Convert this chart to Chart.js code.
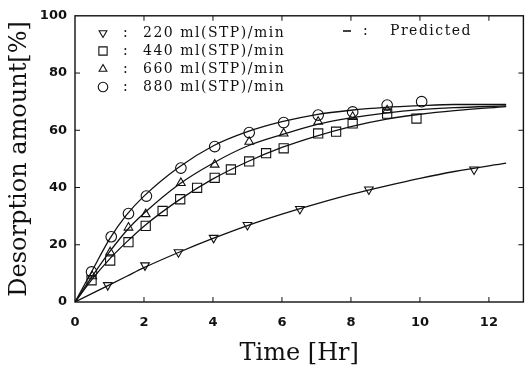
<!DOCTYPE html>
<html>
<head>
<meta charset="utf-8">
<script src="https://cdn.jsdelivr.net/npm/chart.js@4/dist/chart.umd.min.js"></script>
<style>
  html, body { margin: 0; padding: 0; background: #fff; }
  #wrap { width: 531px; height: 371px; position: relative; }
</style>
</head>
<body>
<div id="wrap"><canvas id="desorption"></canvas></div>
<script>
const flowLabels = ['220 ml(STP)/min', '440 ml(STP)/min', '660 ml(STP)/min', '880 ml(STP)/min'];

const t220 = [0.95, 2.03, 3.0, 4.02, 5.0, 6.52, 8.52, 11.57];
const y220 = [5.9, 12.8, 17.4, 22.4, 26.9, 32.5, 39.3, 46.3];

const t440 = [0.48, 1.02, 1.55, 2.05, 2.54, 3.05, 3.54, 4.05, 4.52, 5.05, 5.54, 6.05, 7.05, 7.57, 8.05, 9.05, 9.9];
const y440 = [7.6, 14.5, 20.9, 26.6, 31.8, 35.9, 39.9, 43.4, 46.3, 49.1, 52.0, 53.7, 58.9, 59.5, 62.4, 65.8, 64.1];

const t660 = [0.5, 1.02, 1.55, 2.05, 3.07, 4.05, 5.05, 6.05, 7.05, 8.05, 9.05];
const y660 = [9.0, 17.4, 26.0, 30.7, 41.6, 48.0, 56.0, 58.9, 63.0, 64.7, 67.0];

const t880 = [0.48, 1.05, 1.55, 2.07, 3.07, 4.05, 5.05, 6.05, 7.05, 8.05, 9.05, 10.05];
const y880 = [10.5, 22.8, 30.9, 37.0, 46.8, 54.3, 59.2, 62.7, 65.3, 66.4, 68.8, 70.0];

// predicted curves (solid lines)
const tPred = [0, 0.5, 1, 1.5, 2, 3, 4, 5, 6, 7, 8, 9, 10, 11, 12.5];
const pred220 = [0, 3, 6, 9, 12, 17.3, 22.2, 26.7, 30.7, 34.3, 37.6, 40.5, 43.2, 45.6, 48.5];
const pred440 = [0, 8, 15, 21, 26.5, 35.5, 43, 49, 54, 58, 61.3, 63.8, 65.6, 66.9, 68.3];
const pred660 = [0, 9, 17.5, 25, 31, 41, 48.5, 54.5, 58.5, 62, 64.3, 66, 67.2, 67.9, 68.5];
const pred880 = [0, 11, 22, 30.5, 37, 47, 54.5, 59.5, 63, 65.5, 67, 68, 68.6, 69, 69];

const xTicks = [0, 2, 4, 6, 8, 10, 12];
const yTicks = [0, 20, 40, 60, 80, 100];

const ink = '#111';

const markers = [
  { style: 'triangle', rot: 180, r: 5 },
  { style: 'rect', rot: 0, r: 6.5 },
  { style: 'triangle', rot: 0, r: 5 },
  { style: 'circle', rot: 0, r: 5.3 }
];

function pts(xs, ys) {
  return xs.map((x, i) => ({ x: x, y: ys[i] }));
}

function markerSet(i, xs, ys) {
  const m = markers[i];
  return {
    label: flowLabels[i],
    data: pts(xs, ys),
    showLine: false,
    pointStyle: m.style,
    rotation: m.rot,
    pointRadius: m.r,
    pointBorderColor: ink,
    pointBackgroundColor: 'rgba(0,0,0,0)',
    pointBorderWidth: 1.1
  };
}

function curveSet(ys) {
  return {
    label: 'Predicted',
    data: pts(tPred, ys),
    showLine: true,
    borderColor: ink,
    borderWidth: 1.3,
    pointRadius: 0,
    cubicInterpolationMode: 'monotone'
  };
}

// box, inward ticks and the in-plot legend
const frame = {
  id: 'frame',
  afterDraw(chart) {
    const ctx = chart.ctx;
    const a = chart.chartArea;
    const xs = chart.scales.x, ys = chart.scales.y;
    ctx.save();
    ctx.strokeStyle = ink;
    ctx.lineWidth = 1.4;
    ctx.strokeRect(a.left, a.top, a.right - a.left, a.bottom - a.top);
    ctx.lineWidth = 1;
    ctx.beginPath();
    xTicks.slice(1).forEach(v => {
      const px = xs.getPixelForValue(v);
      ctx.moveTo(px, a.bottom); ctx.lineTo(px, a.bottom - 5);
      ctx.moveTo(px, a.top); ctx.lineTo(px, a.top + 5);
    });
    yTicks.slice(1, -1).forEach(v => {
      const py = ys.getPixelForValue(v);
      ctx.moveTo(a.left, py); ctx.lineTo(a.left + 5, py);
      ctx.moveTo(a.right, py); ctx.lineTo(a.right - 5, py);
    });
    ctx.stroke();

    // legend
    ctx.font = '14px "DejaVu Serif"';
    ctx.letterSpacing = '1.5px';
    ctx.textBaseline = 'middle';
    const rowY = [33, 51, 69, 87];
    flowLabels.forEach((lab, i) => {
      const m = markers[i];
      ctx.fillStyle = 'rgba(0,0,0,0)';
      ctx.lineWidth = 1.1;
      Chart.helpers.drawPoint(ctx, { pointStyle: m.style, rotation: m.rot, radius: m.r * 0.9, borderWidth: 1.1 }, 103, rowY[i]);
      ctx.fillStyle = ink;
      ctx.fillText(':', 123, rowY[i]);
      ctx.fillText(lab, 143, rowY[i]);
    });
    ctx.beginPath();
    ctx.lineWidth = 1.6;
    ctx.moveTo(343, 31); ctx.lineTo(351, 31);
    ctx.stroke();
    ctx.fillText(':', 363, 31);
    ctx.fillText('Predicted', 390, 31);
    ctx.restore();
  }
};

const datasets = [
  markerSet(0, t220, y220),
  markerSet(1, t440, y440),
  markerSet(2, t660, y660),
  markerSet(3, t880, y880),
  curveSet(pred220),
  curveSet(pred440),
  curveSet(pred660),
  curveSet(pred880)
];

new Chart(document.getElementById('desorption'), {
  type: 'scatter',
  data: { datasets: datasets },
  options: {
    responsive: true,
    maintainAspectRatio: false,
    animation: false,
    layout: { padding: { top: 13, right: 2, left: 0, bottom: 0 } },
    plugins: { legend: { display: false }, tooltip: { enabled: false } },
    scales: {
      x: {
        type: 'linear',
        min: 0,
        max: 13,
        afterBuildTicks: s => { s.ticks = xTicks.map(v => ({ value: v })); },
        afterFit: s => { s.height = 69; },
        grid: { display: false, drawTicks: false },
        border: { display: false },
        ticks: {
          color: ink,
          padding: 13,
          font: { family: 'DejaVu Sans', size: 13, weight: 'bold' }
        },
        title: {
          display: true,
          text: 'Time [Hr]',
          color: ink,
          font: { family: 'DejaVu Serif', size: 24, lineHeight: 1 },
          padding: { top: 0, bottom: 5 }
        }
      },
      y: {
        min: 0,
        max: 100,
        afterBuildTicks: s => { s.ticks = yTicks.map(v => ({ value: v })); },
        afterFit: s => { s.width = 75; },
        grid: { display: false, drawTicks: false },
        border: { display: false },
        ticks: {
          color: ink,
          padding: 8,
          font: { family: 'DejaVu Sans', size: 13, weight: 'bold' }
        },
        title: {
          display: true,
          text: 'Desorption amount[%]',
          color: ink,
          font: { family: 'DejaVu Serif', size: 24, lineHeight: 1 },
          padding: { top: 8, bottom: 0 }
        }
      }
    }
  },
  plugins: [frame]
});
</script>
</body>
</html>
